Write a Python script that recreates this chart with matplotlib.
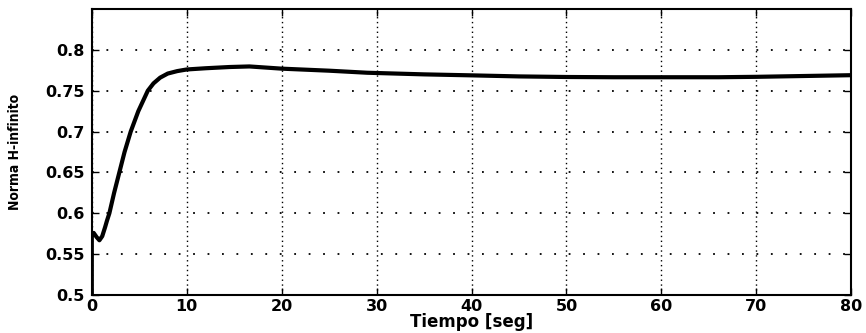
import matplotlib
matplotlib.use('Agg')
import matplotlib.pyplot as plt

# Datos
tiempo = [0, 0, 0.2, 0.5, 0.8, 1.1, 1.4, 1.6, 1.85, 2.35, 2.9, 3.45, 4.1, 4.9, 5.9, 6.5, 7.2, 8.0, 9.0, 10, 12, 14.5, 16.6, 20, 25, 29, 35, 40, 45, 50, 55, 60, 66, 70, 75, 80]
norma = [0.5, 0.574, 0.576, 0.571, 0.567, 0.572, 0.583, 0.591, 0.600, 0.625, 0.650, 0.675, 0.700, 0.725, 0.750, 0.759, 0.766, 0.771, 0.774, 0.776, 0.7775, 0.779, 0.7797, 0.777, 0.7745, 0.772, 0.770, 0.7688, 0.7675, 0.7668, 0.7665, 0.7665, 0.7665, 0.767, 0.768, 0.769]
xticks = [0, 10, 20, 30, 40, 50, 60, 70, 80]
yticks = [0.5, 0.55, 0.6, 0.65, 0.7, 0.75, 0.8]
ytick_labels = ['0.5', '0.55', '0.6', '0.65', '0.7', '0.75', '0.8']

fig = plt.figure(figsize=(8.66, 3.33), dpi=100)
ax = fig.add_axes([0.106, 0.114, 0.877, 0.859])
ax.plot(tiempo, norma, color='black', linewidth=3, solid_joinstyle='round')
ax.set_xlim(0, 80)
ax.set_ylim(0.5, 0.85)
ax.set_xticks(xticks)
ax.set_yticks(yticks)
ax.set_xticklabels([str(v) for v in xticks])
ax.set_yticklabels(ytick_labels)
ax.xaxis.grid(True, linestyle=(0, (1, 2.5)), color='black', linewidth=1.0)
ax.yaxis.grid(True, linestyle=(0, (1, 7)), color='black', linewidth=1.3)
ax.tick_params(direction='in', length=5, labelsize=11.5, width=1,
               top=True, right=True)
ax.tick_params(axis='x', pad=3)
ax.tick_params(axis='y', pad=5)
for lab in ax.get_xticklabels() + ax.get_yticklabels():
    lab.set_fontweight('bold')
for s in ax.spines.values():
    s.set_linewidth(1.5)
ax.set_xlabel('Tiempo [seg]', fontsize=12, fontweight='bold', labelpad=-1)
ax.set_ylabel('Norma H-infinito', fontsize=10, fontweight='bold',
              fontstretch='condensed')
ax.yaxis.set_label_coords(-0.092, 0.5)

plt.savefig('out.png', dpi=100)
